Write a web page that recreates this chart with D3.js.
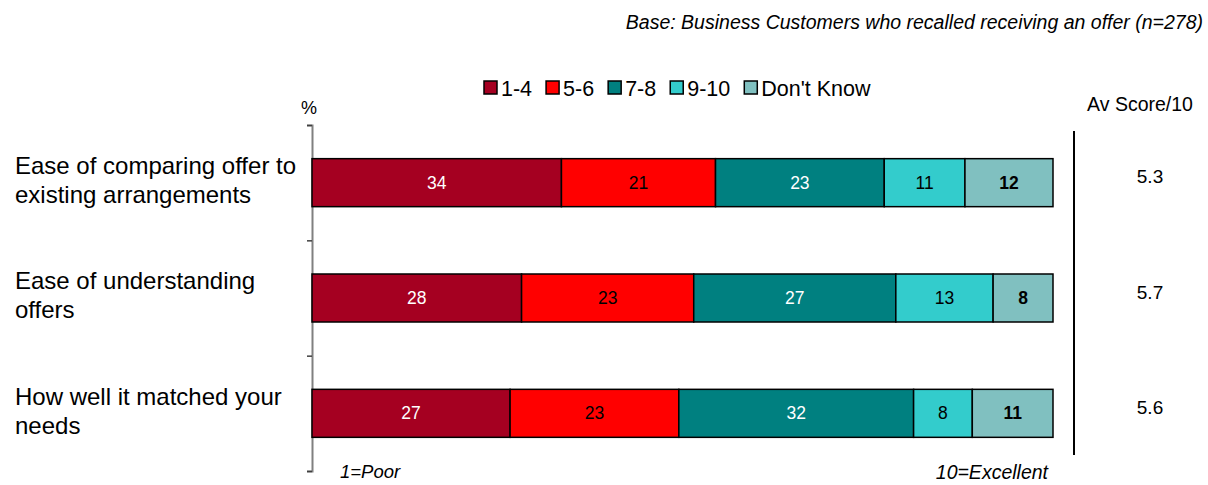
<!DOCTYPE html>
<html>
<head>
<meta charset="utf-8">
<script src="https://cdn.jsdelivr.net/npm/d3@7"></script>
<style>
  html, body { margin: 0; padding: 0; background: #fff; }
  svg { display: block; font-family: "Liberation Sans", Arial, sans-serif; }
</style>
</head>
<body>
<svg id="chart" width="1208" height="485"></svg>
<script>
// Rating bands and their colours
const bands = ["1-4", "5-6", "7-8", "9-10", "Don't Know"];
const bandColors = ["#A50021", "#FF0000", "#008080", "#33CCCC", "#80C0C0"];
const labelColors = ["#ffffff", "#000000", "#ffffff", "#000000", "#000000"];

// Statements rated (each split over two lines)
const statements = [
  ["Ease of comparing offer to", "existing arrangements"],
  ["Ease of understanding", "offers"],
  ["How well it matched your", "needs"]
];

// Percentages per band, in the order of bands above
const pct14 = [34, 28, 27];
const pct56 = [21, 23, 23];
const pct78 = [23, 27, 32];
const pct910 = [11, 13, 8];
const pctDK = [12, 8, 11];

// Average score out of 10
const avgScores = ["5.3", "5.7", "5.6"];

const rows = statements.map((s, i) => ({
  key: i,
  "1-4": pct14[i], "5-6": pct56[i], "7-8": pct78[i], "9-10": pct910[i], "Don't Know": pctDK[i]
}));

const svg = d3.select("#chart");

const x0 = 312, x1 = 1053, yTop = 125, yBot = 471;

const x = d3.scaleLinear().domain([0, 1]).range([x0, x1]);
const y = d3.scaleBand().domain(d3.range(statements.length)).range([yTop, yBot]).padding(0);
const yEdge = d3.scaleLinear().domain([0, statements.length]).range([yTop, yBot]);
const color = d3.scaleOrdinal().domain(bands).range(bandColors);
const barH = 48;

const stack = d3.stack().keys(bands).offset(d3.stackOffsetExpand);
const series = stack(rows);

// Left axis with ticks at band edges
const axis = svg.append("g")
  .attr("transform", `translate(${x0},0)`)
  .call(d3.axisLeft(yEdge).ticks(statements.length).tickFormat("").tickSizeOuter(0).tickSize(5));
axis.select(".domain").attr("stroke", "#808080").attr("stroke-width", 2);
axis.selectAll(".tick line").attr("stroke", "#404040").attr("stroke-width", 1.5);

// Stacked bars
const layer = svg.append("g").selectAll("g")
  .data(series).join("g")
  .attr("fill", d => color(d.key));

layer.selectAll("rect")
  .data(d => d.map(v => ({ v, key: d.key })))
  .join("rect")
  .attr("x", d => x(d.v[0]))
  .attr("width", d => x(d.v[1]) - x(d.v[0]))
  .attr("y", d => y(d.v.data.key) + (y.bandwidth() - barH) / 2)
  .attr("height", barH)
  .attr("stroke", "#000")
  .attr("stroke-width", 1.5);

// Value labels
layer.selectAll("text")
  .data(d => d.map(v => ({ v, key: d.key })))
  .join("text")
  .attr("x", d => (x(d.v[0]) + x(d.v[1])) / 2)
  .attr("y", d => y(d.v.data.key) + y.bandwidth() / 2)
  .attr("dy", "0.35em")
  .attr("text-anchor", "middle")
  .attr("font-size", 17.5)
  .attr("font-weight", d => d.key === "Don't Know" ? "bold" : "normal")
  .attr("fill", d => labelColors[bands.indexOf(d.key)])
  .text(d => d.v.data[d.key]);

// Statement labels
const cat = svg.append("g").selectAll("text")
  .data(statements).join("text")
  .attr("x", 15)
  .attr("y", (d, i) => y(i) + y.bandwidth() / 2 - 17)
  .attr("font-size", 24)
  .attr("fill", "#000");
cat.selectAll("tspan")
  .data(d => d).join("tspan")
  .attr("x", 15)
  .attr("dy", (d, j) => j === 0 ? "0.35em" : 29)
  .text(d => d);

// Divider before averages
svg.append("line")
  .attr("x1", 1074).attr("x2", 1074)
  .attr("y1", 131).attr("y2", 455)
  .attr("stroke", "#000").attr("stroke-width", 2);

svg.append("text")
  .attr("x", 1140).attr("y", 104).attr("dy", "0.35em")
  .attr("text-anchor", "middle").attr("font-size", 19.5)
  .text("Av Score/10");

svg.append("g").selectAll("text")
  .data(avgScores).join("text")
  .attr("x", 1150)
  .attr("y", (d, i) => y(i) + y.bandwidth() / 2 - 6)
  .attr("dy", "0.35em")
  .attr("text-anchor", "middle").attr("font-size", 19)
  .text(d => d);

// Legend
const legend = svg.append("g").attr("transform", "translate(484,0)");
let lx = 0;
bands.forEach((b, i) => {
  const g = legend.append("g").attr("transform", `translate(${lx},0)`);
  g.append("rect").attr("x", 0).attr("y", 81).attr("width", 13).attr("height", 13)
    .attr("fill", color(b)).attr("stroke", "#000").attr("stroke-width", 1.5);
  const t = g.append("text").attr("x", 17).attr("y", 88).attr("dy", "0.35em")
    .attr("font-size", 21.5).text(b);
  lx += 17 + t.node().getComputedTextLength() + 14;
});

// Percent marker, scale ends, base note
svg.append("text").attr("x", 309).attr("y", 108).attr("dy", "0.35em")
  .attr("text-anchor", "middle").attr("font-size", 18).text("%");

svg.append("text").attr("x", 340).attr("y", 472).attr("dy", "0.35em")
  .attr("font-size", 18.5).attr("font-style", "italic").text("1=Poor");
svg.append("text").attr("x", 1048).attr("y", 472).attr("dy", "0.35em")
  .attr("text-anchor", "end").attr("font-size", 19.5).attr("font-style", "italic").text("10=Excellent");

svg.append("text").attr("x", 1203).attr("y", 22).attr("dy", "0.35em")
  .attr("text-anchor", "end").attr("font-size", 19.5).attr("font-style", "italic")
  .text("Base: Business Customers who recalled receiving an offer (n=278)");
</script>
</body>
</html>
